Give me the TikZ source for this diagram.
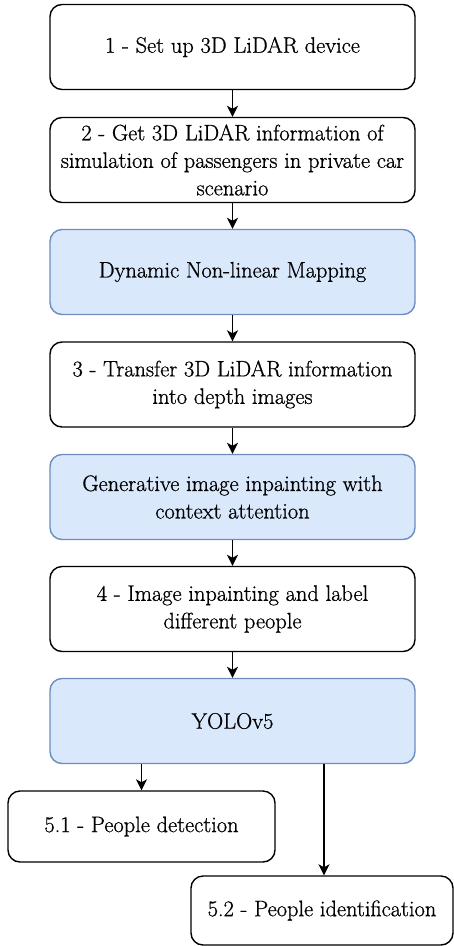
\documentclass[tikz,border=0pt]{standalone}
\usepackage{fontspec}
\setmainfont{Latin Modern Roman}[RawFeature={embolden=0.8}]
\usetikzlibrary{arrows.meta}
\definecolor{stepblue}{HTML}{DAE8FC}
\definecolor{stepblueline}{HTML}{6C8EBF}
\begin{document}
\begin{tikzpicture}[x=1pt,y=-1pt,
  every node/.style={font=\rmfamily\fontsize{22.4}{27.5}\selectfont, align=center, inner sep=0pt},
  plainbox/.style={draw=black, fill=white, line width=1.4pt, rounded corners=12pt,
    minimum width=365pt, minimum height=85pt},
  bluebox/.style={plainbox, draw=stepblueline, fill=stepblue},
  flow/.style={line width=1.7pt, -{Stealth[length=11pt,width=11pt,inset=3pt]}}]
\useasboundingbox (0,0) rectangle (454,946);
\node[plainbox] (s1) at (232.5,47) {1 - Set up 3D LiDAR device};
\node[plainbox] (s2) at (232.5,160) {2 - Get 3D LiDAR information of\\simulation of passengers in private car\\scenario};
\node[bluebox]  (m1) at (232.5,272) {Dynamic Non-linear Mapping};
\node[plainbox] (s3) at (232.5,384.5) {3 - Transfer 3D LiDAR information\\into depth images};
\node[bluebox]  (m2) at (232.5,497) {Generative image inpainting with\\context attention};
\node[plainbox] (s4) at (232.5,609) {4 - Image inpainting and label\\different people};
\node[bluebox]  (m3) at (232.5,721) {YOLOv5};
\node[plainbox, minimum width=267pt, minimum height=71pt] (d51) at (141.5,826.5) {5.1 - People detection};
\node[plainbox, minimum width=262pt, minimum height=69pt] (d52) at (322,910.5) {5.2 - People identification};
\draw[flow] (s1) -- (s2);
\draw[flow] (s2) -- (m1);
\draw[flow] (m1) -- (s3);
\draw[flow] (s3) -- (m2);
\draw[flow] (m2) -- (s4);
\draw[flow] (s4) -- (m3);
\draw[flow] (m3.south -| d51.north) -- (d51.north);
\coordinate (c52) at ([xshift=2pt]d52.north);
\draw[flow] (m3.south -| c52) -- (c52);
\end{tikzpicture}
\end{document}
